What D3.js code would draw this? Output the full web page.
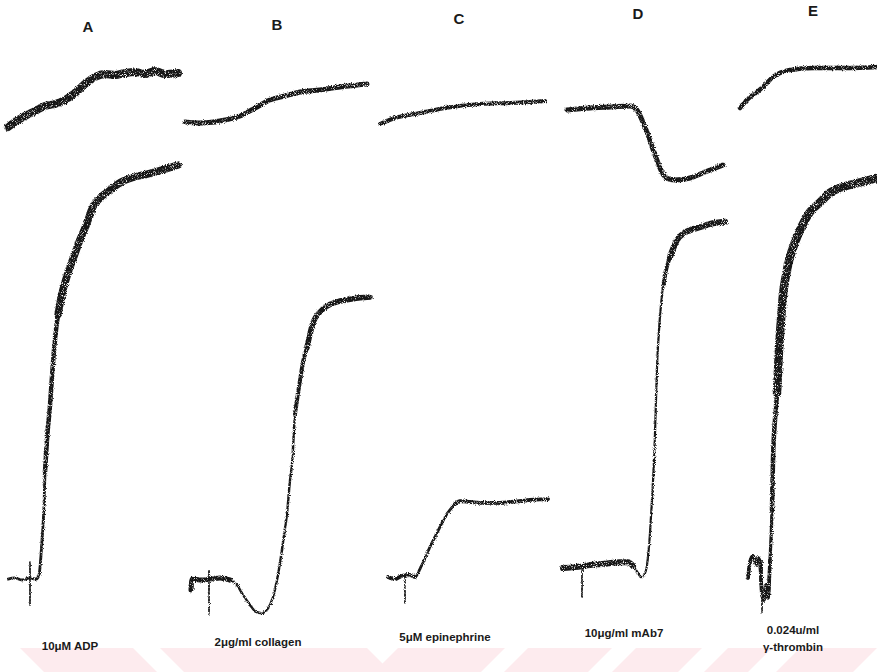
<!DOCTYPE html>
<html>
<head>
<meta charset="utf-8">
<script src="https://cdn.jsdelivr.net/npm/d3@7"></script>
<style>
html,body{margin:0;padding:0;background:#fff;}
svg{display:block;}
</style>
</head>
<body>
<div id="chart"></div>
<script>
// ---------------- DATA ----------------
// Panels (agonists)
const panelLetters = ["A", "B", "C", "D", "E"];
const agonistLabels = [
  ["10μM ADP"],
  ["2μg/ml collagen"],
  ["5μM epinephrine"],
  ["10μg/ml mAb7"],
  ["0.024u/ml", "γ-thrombin"]
];

// Lower traces: aggregation (% , time in s) as [t, value]
const aggA = [[0,0.2],[7,0.5],[14,0],[22,0.5],[28,0.2],[31,1.2],[33,6],[34,9.6],[36,18],[37,26],[39,34],[42,42],[44,49],[47,58],[50,64],[54,69],[60,74],[66,78],[72,82],[79,86],[85,90],[92,92],[102,94],[114,96],[125,97],[142,98],[157,99],[170,100]];
const aggB = [[6,-2.4],[7,0.2],[15,0],[25,0.2],[35,0.5],[45,0],[52,-1.2],[58,-3.6],[65,-6],[71,-7.7],[77,-8],[82,-7.2],[88,-4.1],[92,0],[95,4.1],[99,10.8],[102,16],[105,24],[107,28],[110,40],[113,45],[115,48],[118,52.5],[122,56],[128,62],[135,64.6],[142,66],[152,67],[162,67.5],[175,68],[185,68.2]];
const aggC = [[8,0.7],[15,0.2],[22,1],[30,1.2],[35,0.7],[40,2.7],[45,5.3],[50,8],[55,10.4],[60,12.8],[65,15.2],[70,16.9],[75,18.3],[80,19],[90,18.8],[100,18.6],[110,18.6],[120,18.6],[130,18.8],[140,19],[150,19.3],[168,19.5]];
const aggD = [[0,2.9],[12,3.1],[27,3.6],[42,3.9],[57,4.3],[65,4.3],[70,3.4],[75,1.7],[78,0.7],[81,1.2],[84,3.6],[87,11.3],[89,19.3],[91,28.9],[92,35.4],[93,43.4],[94,51.3],[96,60.2],[98,66.3],[100,70.6],[103,74.7],[107,77.8],[114,81.9],[121,83.6],[127,84.3],[137,85],[147,85.8],[162,86.3]];
const aggE = [[8,0.5],[10,4.3],[13,5.8],[16,3.6],[18,5.3],[20,4.3],[22,-3.6],[24,-4.8],[26,-1.2],[28,-4.3],[30,4.8],[32,16.9],[33,28.9],[35,38.6],[37,45],[39,55.4],[41,62.7],[43,68.7],[46,73.5],[50,77.8],[55,81.4],[60,84.3],[70,88.7],[80,91],[90,93.3],[100,94.5],[110,95.2],[125,96.1],[137,96.9]];

// Upper traces: second signal (arbitrary units) as [t, value]
const sigA = [[0,5],[7,13.3],[17,23.3],[27,31.7],[37,40],[47,43.3],[57,50],[67,61.7],[77,76.7],[87,88.3],[97,93.3],[107,91.7],[117,95],[127,96.7],[137,93.3],[147,98.3],[157,93.3],[170,95]];
const sigB = [[0,13.3],[15,11.7],[35,15],[55,23.3],[70,36.7],[85,50],[100,56.7],[115,63.3],[135,66.7],[155,71.7],[182,76.7]];
const sigC = [[0,10],[15,20],[40,28.3],[65,36.7],[100,43.3],[130,45],[165,48.3]];
const sigD = [[4,33.3],[27,36.7],[47,38.3],[67,40],[74,33.3],[79,16.7],[85,-8.3],[91,-36.7],[97,-63.3],[103,-80],[112,-83.3],[127,-80],[142,-70],[160,-58.3]];
const sigE = [[0,36.7],[5,46.7],[10,55],[17,63.3],[23,71.7],[33,88.3],[50,100],[73,103.3],[107,103.3],[137,105]];

// Agonist-addition marks: [time, low value, high value] on aggregation scale
const addMarks = [[22,-6,4.3],[24,-8.4,2.4],[25,-5.5,1.2],[19,-4.1,2.9],[22,-7.7,4.8]];

const aggSeries = [aggA, aggB, aggC, aggD, aggE];
const sigSeries = [sigA, sigB, sigC, sigD, sigE];

// ---------------- LAYOUT / STYLE ----------------
const W = 877, H = 672;
const panelX0 = [8, 185, 380, 563, 740];
const letterPos = [[88, 32], [277, 30], [459, 24], [638, 19], [813, 16]];
const labelPos = [[70, 650], [258, 646], [445, 641], [624, 637], [793, 634]];
// trace stroke styling: base width + overlays [tFrom, tTo, width] (noise band thickness)
const aggBase = [2.8, 2.4, 2.8, 2.2, 3.2];
const aggOverlays = [
  [[37, 999, 4.5], [48, 999, 7.5]],
  [[-99, 50, 5], [108, 999, 4], [120, 999, 5.5]],
  [[-99, 38, 3.8], [72, 999, 3.8]],
  [[-99, 70, 6], [100, 999, 4], [106, 999, 6]],
  [[-99, 31, 3.6], [31, 999, 4.5], [37, 999, 8.5]]
];
const sigStyle = [8, 5, 4, 5, 4.5];

const svg = d3.select("#chart").append("svg")
  .attr("width", W).attr("height", H)
  .attr("viewBox", `0 0 ${W} ${H}`);

const defs = svg.append("defs");
const f = defs.append("filter").attr("id", "grain")
  .attr("filterUnits", "userSpaceOnUse")
  .attr("x", 0).attr("y", 0).attr("width", W).attr("height", H);
f.append("feTurbulence").attr("type", "fractalNoise").attr("baseFrequency", 1.1)
  .attr("numOctaves", 1).attr("seed", 7).attr("result", "noise");
f.append("feDisplacementMap").attr("in", "SourceGraphic").attr("in2", "noise")
  .attr("scale", 3.5).attr("xChannelSelector", "R").attr("yChannelSelector", "G").attr("result", "disp");
f.append("feColorMatrix").attr("in", "noise").attr("type", "matrix")
  .attr("values", "0 0 0 0 0  0 0 0 0 0  0 0 0 0 0  -5 0 0 0 3.7").attr("result", "mask");
f.append("feComposite").attr("in", "disp").attr("in2", "mask").attr("operator", "in");

// faint pink watermark band
const wm = svg.append("g").attr("fill", "#fdebee");
const wmBack = [[20, 133], [160, 367]];
const wmFwd = [[398, 505], [528, 612], [636, 702], [728, 772], [800, 877]];
wmBack.forEach(([a, b]) => wm.append("polygon")
  .attr("points", `${a},648 ${b},648 ${b + 24},672 ${a + 24},672`));
wmFwd.forEach(([a, b]) => wm.append("polygon")
  .attr("points", `${a},648 ${b},648 ${b - 24},672 ${a - 24},672`));

// scales
const yAgg = d3.scaleLinear().domain([0, 100]).range([580, 165]);
const ySig = d3.scaleLinear().domain([0, 100]).range([130, 70]);
const xPanel = panelX0.map(x0 => d3.scaleLinear().domain([0, 100]).range([x0, x0 + 100]));

const traces = svg.append("g").attr("filter", "url(#grain)")
  .attr("fill", "none").attr("stroke", "#141414")
  .attr("stroke-linejoin", "round").attr("stroke-linecap", "round");

aggSeries.forEach((data, i) => {
  const x = xPanel[i];
  const line = d3.line().x(d => x(d[0])).y(d => yAgg(d[1])).curve(d3.curveMonotoneX);
  traces.append("path").attr("d", line(data)).attr("stroke-width", aggBase[i]);
  aggOverlays[i].forEach(([a, b, w]) => {
    const seg = d3.line().defined(d => d[0] >= a && d[0] <= b)
      .x(d => x(d[0])).y(d => yAgg(d[1])).curve(d3.curveMonotoneX);
    traces.append("path").attr("d", seg(data)).attr("stroke-width", w);
  });
  // addition mark
  const m = addMarks[i];
  traces.append("line")
    .attr("x1", x(m[0])).attr("x2", x(m[0]))
    .attr("y1", yAgg(m[1])).attr("y2", yAgg(m[2]))
    .attr("stroke-width", 1.8).attr("stroke-dasharray", "2 1.5");
});

sigSeries.forEach((data, i) => {
  const x = xPanel[i];
  const line = d3.line().x(d => x(d[0])).y(d => ySig(d[1])).curve(d3.curveMonotoneX);
  traces.append("path").attr("d", line(data)).attr("stroke-width", sigStyle[i]);
});

// panel letters
svg.append("g").selectAll("text").data(panelLetters).join("text")
  .attr("x", (d, i) => letterPos[i][0]).attr("y", (d, i) => letterPos[i][1])
  .attr("text-anchor", "middle")
  .attr("font-family", "Liberation Sans, Arial, sans-serif")
  .attr("font-weight", "bold").attr("font-size", 15).attr("fill", "#1a1a1a")
  .text(d => d);

// agonist labels
const lab = svg.append("g")
  .attr("font-family", "Liberation Sans, Arial, sans-serif")
  .attr("font-weight", "bold").attr("font-size", 11.5).attr("fill", "#1a1a1a")
  .attr("text-anchor", "middle");
agonistLabels.forEach((lines, i) => {
  lines.forEach((s, j) => {
    lab.append("text").attr("x", labelPos[i][0]).attr("y", labelPos[i][1] + j * 17).text(s);
  });
});
</script>
</body>
</html>
